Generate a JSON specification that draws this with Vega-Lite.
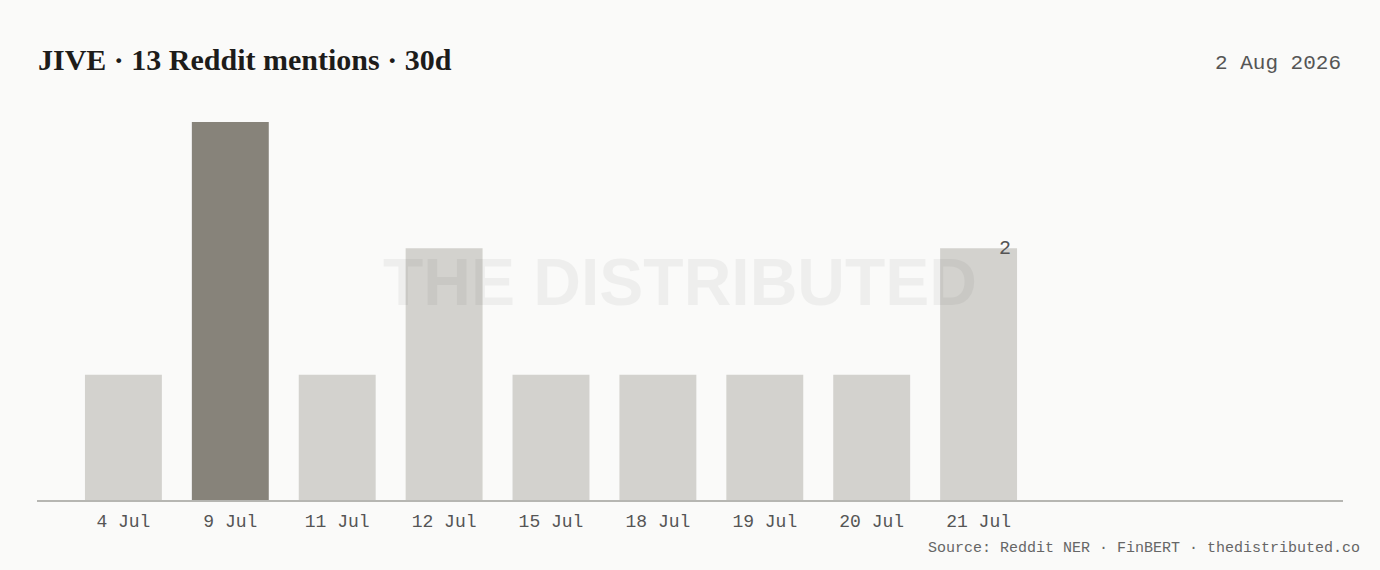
{
  "$schema": "https://vega.github.io/schema/vega-lite/v6.json",
  "autosize": "none",
  "width": 1306,
  "height": 379,
  "padding": {"left": 37, "top": 122, "right": 37, "bottom": 69},
  "background": "#fafaf9",
  "config": {
    "view": {"stroke": null},
    "font": "Liberation Mono"
  },
  "data": {
    "values": [
      {"date": "4 Jul", "mentions": 1},
      {"date": "9 Jul", "mentions": 3},
      {"date": "11 Jul", "mentions": 1},
      {"date": "12 Jul", "mentions": 2},
      {"date": "15 Jul", "mentions": 1},
      {"date": "18 Jul", "mentions": 1},
      {"date": "19 Jul", "mentions": 1},
      {"date": "20 Jul", "mentions": 1},
      {"date": "21 Jul", "mentions": 2}
    ]
  },
  "layer": [
    {
      "mark": {"type": "bar"},
      "encoding": {
        "x": {
          "field": "date",
          "type": "ordinal",
          "sort": null,
          "scale": {"range": [0, 1028], "paddingInner": 0.2804, "paddingOuter": 0.4486},
          "axis": {
            "title": null,
            "domain": false,
            "ticks": false,
            "labelAngle": 0,
            "labelFont": "Liberation Mono",
            "labelFontSize": 18,
            "labelColor": "#555555",
            "labelPadding": 11
          }
        },
        "y": {
          "field": "mentions",
          "type": "quantitative",
          "scale": {"domain": [0, 3], "nice": false},
          "axis": null
        },
        "color": {
          "condition": {"test": "datum.mentions === 3", "value": "#87837a"},
          "value": "#d3d2ce"
        }
      }
    },
    {
      "data": {"values": [{"label": "THE DISTRIBUTED"}]},
      "mark": {"type": "text", "font": "Liberation Sans", "fontWeight": "bold", "fontSize": 66, "fill": "#000000", "opacity": 0.045, "align": "center", "baseline": "middle"},
      "encoding": {
        "x": {"value": {"expr": "width/2 - 10"}},
        "y": {"value": {"expr": "height*0.43"}},
        "text": {"field": "label"}
      }
    },
    {
      "mark": {"type": "rule", "color": "#b5b5b2", "strokeWidth": 1.2},
      "encoding": {"y": {"datum": 0, "type": "quantitative"}}
    },
    {
      "transform": [{"filter": "datum.date === '21 Jul'"}],
      "mark": {"type": "text", "font": "Liberation Mono", "fontSize": 20, "color": "#555555", "align": "right", "baseline": "middle", "dx": -6},
      "encoding": {
        "x": {"field": "date", "type": "ordinal", "sort": null, "bandPosition": 1},
        "y": {"field": "mentions", "type": "quantitative"},
        "text": {"field": "mentions", "type": "quantitative"}
      }
    },
    {
      "data": {"values": [{"label": "JIVE · 13 Reddit mentions · 30d"}]},
      "mark": {"type": "text", "font": "Liberation Serif", "fontWeight": "bold", "fontSize": 30, "color": "#1d1c1a", "align": "left", "baseline": "alphabetic"},
      "encoding": {
        "x": {"value": 1},
        "y": {"value": -52},
        "text": {"field": "label"}
      }
    },
    {
      "data": {"values": [{"label": "2 Aug 2026"}]},
      "mark": {"type": "text", "font": "Liberation Mono", "fontSize": 21, "color": "#555555", "align": "right", "baseline": "middle"},
      "encoding": {
        "x": {"value": {"expr": "width - 2"}},
        "y": {"value": -59},
        "text": {"field": "label"}
      }
    },
    {
      "data": {"values": [{"label": "Source: Reddit NER · FinBERT · thedistributed.co"}]},
      "mark": {"type": "text", "font": "Liberation Mono", "fontSize": 15, "color": "#666666", "align": "right", "baseline": "middle"},
      "encoding": {
        "x": {"value": {"expr": "width + 17"}},
        "y": {"value": {"expr": "height + 46"}},
        "text": {"field": "label"}
      }
    }
  ]
}
